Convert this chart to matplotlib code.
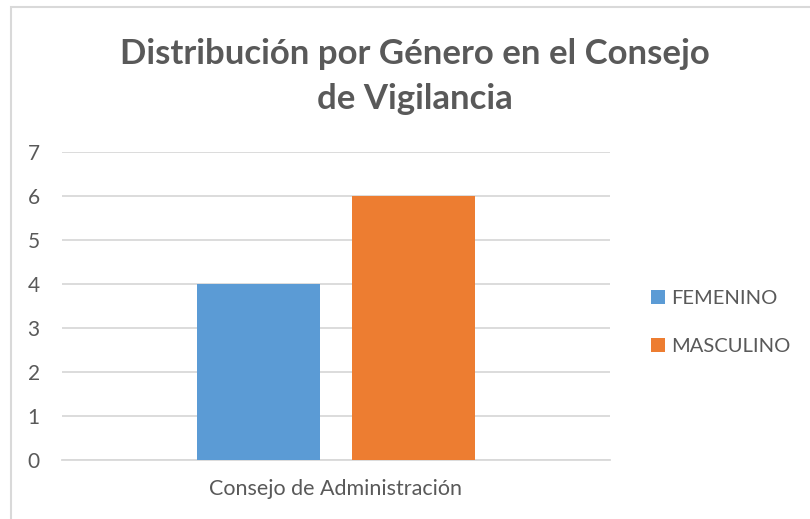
import matplotlib.pyplot as plt
from matplotlib.patches import Rectangle

# --- Data ---
categories = ["Consejo de Administración"]
series = ["FEMENINO", "MASCULINO"]
values = [4, 6]
colors = ["#5B9BD5", "#ED7D31"]

plt.rcParams['font.family'] = ['Lato', 'DejaVu Sans']
text_col = "#595959"

fig = plt.figure(figsize=(8.1, 5.19), dpi=100)
ax = fig.add_axes([0.0765, 0.1137, 0.6765, 0.5934])

offsets = [-0.142, 0.142]
width = 0.2245
for name, v, c, off in zip(series, values, colors, offsets):
    ax.bar(0 + off, v, width=width, color=c, label=name, zorder=3)

ax.set_xlim(-0.5, 0.5)
ax.set_ylim(0, 7)
ax.set_yticks(range(0, 8))
ax.set_xticks([0])
ax.set_xticklabels(categories)
ax.tick_params(axis='both', length=0, colors=text_col)
ax.tick_params(axis='x', pad=14, labelsize=15.5)
ax.tick_params(axis='y', pad=16, labelsize=15)
ax.grid(axis='y', color="#d9d9d9", linewidth=1.3, zorder=0)
for s in ['top', 'right', 'left']:
    ax.spines[s].set_visible(False)
ax.spines['bottom'].set_color("#d9d9d9")
ax.spines['bottom'].set_linewidth(1.3)

fig.text(0.512, 0.852, "Distribución por Género en el Consejo\nde Vigilancia",
         ha='center', va='center', fontsize=25, fontweight='bold',
         color=text_col, linespacing=1.5)

leg = fig.legend(loc='center left', bbox_to_anchor=(0.781, 0.379), frameon=False,
                 fontsize=14.5, handlelength=0.7, handleheight=0.7,
                 handletextpad=0.3, labelspacing=1.55)
for t in leg.get_texts():
    t.set_color(text_col)

# chart border
fig.patches.append(Rectangle((11 / 810, -0.1), 1.2, 1 - 7 / 519 + 0.1,
                             transform=fig.transFigure, fill=False,
                             edgecolor="#d9d9d9", linewidth=1.5))

fig.savefig("out.png", dpi=100)
